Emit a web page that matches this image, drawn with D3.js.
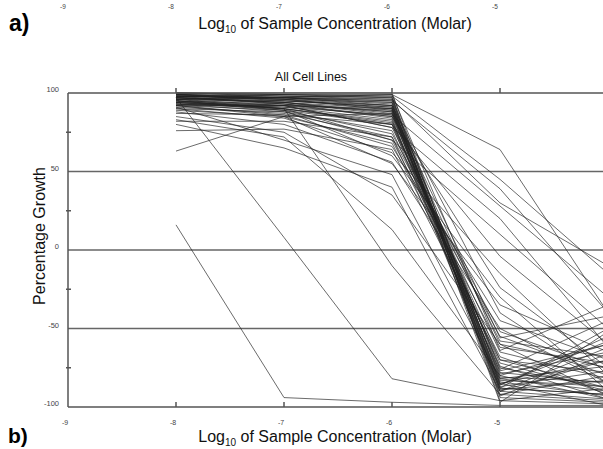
<!DOCTYPE html>
<html>
<head>
<meta charset="utf-8">
<style>
body { margin: 0; background: #fff; }
text { font-family: "Liberation Sans", Arial, sans-serif; }
.grid { stroke: #666; stroke-width: 1.5; }
.frame { stroke: #555; stroke-width: 1.5; fill: none; }
.cell { fill: none; stroke: #222; stroke-width: 0.9; stroke-opacity: 0.75; }
</style>
<title>All Cell Lines</title>
</head>
<body>
<div id="chart"></div>
<script src="https://d3js.org/d3.v7.min.js"></script>
<script>
// log10 molar concentrations tested
var concentrations = [-8, -7, -6, -5, -4];

// percentage growth of each cell line at those concentrations
var growth = [
  [98, 97, 95, -78, -85], [99, 98, 97, -82, -90], [97, 95, 92, -85, -70],
  [96, 94, 90, -88, -92], [100, 99, 98, -90, -95], [95, 93, 88, -80, -60],
  [94, 92, 85, -75, -88], [93, 90, 82, -70, -78], [98, 96, 94, -92, -80],
  [99, 97, 93, -86, -55], [92, 89, 80, -65, -82], [97, 94, 87, -60, -75],
  [96, 95, 91, -84, -93], [95, 92, 78, -58, -68], [90, 88, 76, -72, -90],
  [100, 98, 96, -94, -97], [98, 93, 84, -88, -50], [94, 91, 86, -79, -65],
  [97, 96, 89, -83, -87], [91, 87, 72, -55, -80], [99, 96, 90, -76, -45],
  [96, 90, 70, -62, -72], [93, 91, 83, -90, -62], [98, 97, 92, -81, -84],
  [95, 89, 74, -52, -76], [89, 85, 68, -68, -92], [97, 94, 88, -86, -58],
  [100, 99, 97, -96, -88], [94, 90, 81, -74, -95], [92, 86, 66, -45, -70],
  [98, 96, 92, -40, -85], [97, 93, 85, -24, -75], [95, 90, 80, -4, -60],
  [99, 97, 95, 39, -40], [100, 99, 99, 64, -40], [99, 98, 98, 45, -15],
  [96, 92, 78, 20, -62], [93, 88, 70, 10, -50], [90, 84, 62, -15, -80],
  [97, 94, 86, 28, -30], [94, 89, 60, -30, -90], [92, 85, 55, -35, -65],
  [88, 80, 56, -50, -85], [85, 75, 35, -60, -93], [83, 72, 13, -80, -95],
  [97, 8, -82, -96, -98], [16, -94, -97, -99, -99], [63, 85, 87, -88, -92],
  [76, 77, 64, -70, -88], [82, 82, 72, -77, -60], [80, 65, 40, -90, -70],
  [95, 90, -10, -92, -96], [91, 70, 48, -82, -74], [99, 95, 91, -97, -52],
  [98, 97, 94, -93, -66], [87, 86, 80, -89, -83], [96, 97, 99, -64, -35],
  [93, 92, 89, -87, -77], [100, 100, 100, -85, -99], [92, 92, 90, -56, -42],
  [98, 97, 96, 30, -10]
];

var xTicks = [-9, -8, -7, -6, -5, -4];
var xLabels = [-9, -8, -7, -6, -5];
var yTicks = [100, 50, 0, -50, -100];
var yMinor = [75, 25, -25, -75];
var gridValues = [50, 0, -50];

var width = 603, height = 449;

var svg = d3.select("#chart").append("svg")
    .attr("width", width)
    .attr("height", height);

var x = d3.scaleLinear().domain([-9, -4]).range([68, 608]);
var y = d3.scaleLinear().domain([-100, 100]).range([407, 93]);

// remnant of panel a) above
svg.append("text").attr("x", 9).attr("y", 31)
    .attr("font-size", 23).attr("font-weight", "bold").text("a)");

svg.selectAll(".toptick")
    .data(xLabels)
  .enter().append("text")
    .attr("class", "toptick")
    .attr("x", function(d) { return x(d) - 5; })
    .attr("y", 9)
    .attr("text-anchor", "middle")
    .attr("font-size", 6.5)
    .attr("fill", "#444")
    .text(function(d) { return d; });

function axisTitle(yPos) {
  var t = svg.append("text")
      .attr("x", 335).attr("y", yPos)
      .attr("text-anchor", "middle")
      .attr("font-size", 16)
      .attr("fill", "#111");
  t.append("tspan").text("Log");
  t.append("tspan").attr("font-size", 10).attr("dy", 4).text("10");
  t.append("tspan").attr("dy", -4).text(" of Sample Concentration (Molar)");
}
axisTitle(29);

svg.append("text")
    .attr("x", 311).attr("y", 81)
    .attr("text-anchor", "middle")
    .attr("font-size", 12.5)
    .attr("fill", "#111")
    .text("All Cell Lines");

// grid lines
svg.selectAll(".grid")
    .data(gridValues)
  .enter().append("line")
    .attr("class", "grid")
    .attr("x1", x(-9)).attr("x2", width)
    .attr("y1", function(d) { return y(d); })
    .attr("y2", function(d) { return y(d); });

// cell line curves
var line = d3.line()
    .x(function(d, i) { return x(concentrations[i]); })
    .y(function(d) { return y(d); });

svg.append("g")
  .selectAll("path")
    .data(growth)
  .enter().append("path")
    .attr("class", "cell")
    .attr("d", line);

// frame
svg.append("line").attr("class", "frame")
    .attr("x1", x(-9)).attr("x2", width).attr("y1", y(100)).attr("y2", y(100));
svg.append("line").attr("class", "frame")
    .attr("x1", x(-9)).attr("x2", width).attr("y1", y(-100)).attr("y2", y(-100));
svg.append("line").attr("class", "frame")
    .attr("x1", x(-9)).attr("x2", x(-9)).attr("y1", y(100)).attr("y2", y(-100));

// x ticks, top and bottom
svg.selectAll(".xtb")
    .data(xTicks.slice(1, 5))
  .enter().append("line")
    .attr("class", "frame")
    .attr("x1", function(d) { return x(d); })
    .attr("x2", function(d) { return x(d); })
    .attr("y1", y(-100)).attr("y2", y(-100) - 5);
svg.selectAll(".xtt")
    .data(xTicks.slice(1, 5))
  .enter().append("line")
    .attr("class", "frame")
    .attr("x1", function(d) { return x(d); })
    .attr("x2", function(d) { return x(d); })
    .attr("y1", y(100)).attr("y2", y(100) - 5);

svg.selectAll(".xlab")
    .data(xLabels)
  .enter().append("text")
    .attr("x", function(d) { return x(d) - 3; })
    .attr("y", 425)
    .attr("text-anchor", "middle")
    .attr("font-size", 7)
    .attr("fill", "#444")
    .text(function(d) { return d; });

// y minor ticks
svg.selectAll(".ymin")
    .data(yMinor)
  .enter().append("line")
    .attr("class", "frame")
    .attr("x1", x(-9) - 2).attr("x2", x(-9) + 3)
    .attr("y1", function(d) { return y(d); })
    .attr("y2", function(d) { return y(d); });

svg.selectAll(".ylab")
    .data(yTicks)
  .enter().append("text")
    .attr("x", 59)
    .attr("y", function(d) { return y(d) - 1; })
    .attr("text-anchor", "end")
    .attr("font-size", 7.5)
    .attr("fill", "#444")
    .text(function(d) { return d; });

svg.append("text")
    .attr("transform", "translate(45,236) rotate(-90)")
    .attr("text-anchor", "middle")
    .attr("font-size", 16)
    .attr("fill", "#111")
    .text("Percentage Growth");

axisTitle(442);

svg.append("text").attr("x", 8).attr("y", 443)
    .attr("font-size", 21).attr("font-weight", "bold").text("b)");
</script>
</body>
</html>
